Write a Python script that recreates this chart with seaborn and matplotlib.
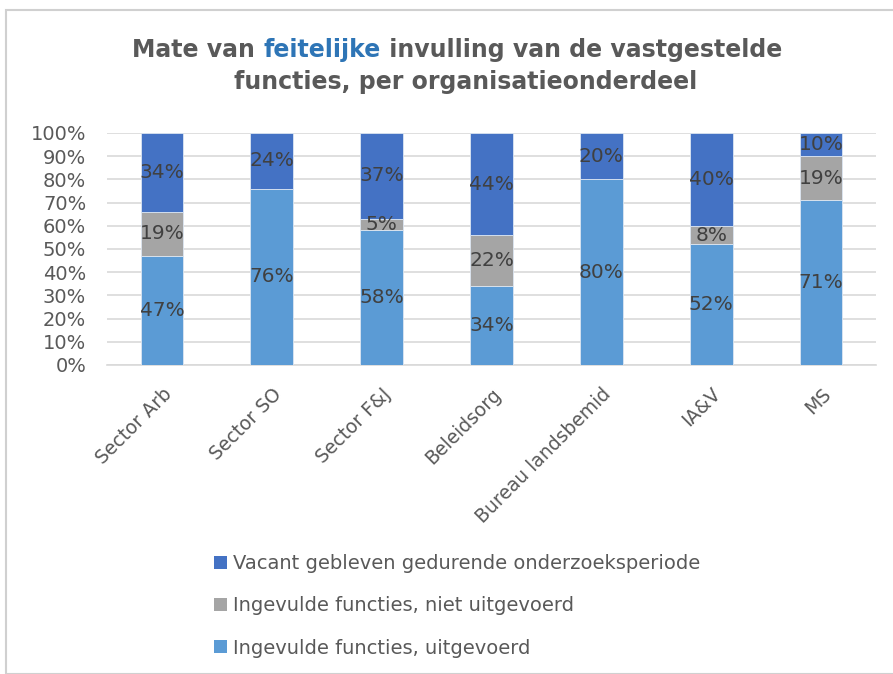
import matplotlib
matplotlib.use("Agg")
import matplotlib.pyplot as plt
import seaborn as sns
import pandas as pd
import numpy as np
from matplotlib.patches import Rectangle, Patch

categories = ["Sector Arb", "Sector SO", "Sector F&J", "Beleidsorg", "Bureau landsbemid", "IA&V", "MS"]
uitgevoerd = [47, 76, 58, 34, 80, 52, 71]
niet_uitgevoerd = [19, 0, 5, 22, 0, 8, 19]
vacant = [34, 24, 37, 44, 20, 40, 10]
series_names = ["Ingevulde functies, uitgevoerd", "Ingevulde functies, niet uitgevoerd",
                "Vacant gebleven gedurende onderzoeksperiode"]
yticks = [0, 10, 20, 30, 40, 50, 60, 70, 80, 90, 100]

colors = ["#5B9BD5", "#A5A5A5", "#4472C4"]
TXT = "#595959"

sns.set_theme(style="white")
plt.rcParams['font.family'] = ['DejaVu Sans']

fig = plt.figure(figsize=(8.93, 6.74), dpi=100)
ax = fig.add_axes([107/893, 1-365/674, 769/893, 232/674])

df = pd.DataFrame({"cat": categories, "u": uitgevoerd, "n": niet_uitgevoerd, "v": vacant})
bottoms = [np.zeros(len(categories)), np.array(uitgevoerd, float), np.array(uitgevoerd, float) + np.array(niet_uitgevoerd, float)]
cols = ["u", "n", "v"]
for col, b, c in zip(cols, bottoms, colors):
    sns.barplot(data=df, x="cat", y=col, bottom=b, color=c, width=0.39, ax=ax,
                saturation=1, edgecolor="#DCE6F2", linewidth=0.6, zorder=3)
    for i, (val, bb) in enumerate(zip(df[col], b)):
        if val > 0:
            ax.text(i, bb + val/2, f"{val}%", ha="center", va="center", fontsize=14.5,
                    color="#404040", zorder=4)

ax.set_ylim(0, 100)
ax.set_xlim(-0.5, len(categories)-0.5)
ax.set_yticks(yticks)
ax.set_yticklabels([f"{t}%" for t in yticks], fontsize=14, color=TXT)
ax.set_xticks(range(len(categories)))
ax.set_xticklabels(categories, rotation=45, ha="right", rotation_mode="anchor", fontsize=13.5, color=TXT)
ax.tick_params(axis="y", length=0, pad=15)
ax.tick_params(axis="x", length=0, pad=14)
ax.grid(axis="y", color="#D9D9D9", linewidth=1.2, zorder=0)
ax.set_axisbelow(True)
for s in ["top", "right", "left"]:
    ax.spines[s].set_visible(False)
ax.spines["bottom"].set_color("#D9D9D9")
ax.spines["bottom"].set_linewidth(1.2)
ax.set_xlabel("")
ax.set_ylabel("")

# Title with mixed colours
fig.canvas.draw()
r = fig.canvas.get_renderer()
parts = [("Mate van ", TXT), ("feitelijke", "#2E75B6"), (" invulling van de vastgestelde", TXT)]
tfs = 17
widths = []
for s, c in parts:
    t = fig.text(0, 0, s, fontsize=tfs, fontweight="bold")
    widths.append(t.get_window_extent(r).width)
    t.remove()
total = sum(widths)
x = 457 - total/2
y1 = 1 - 50/674
for (s, c), w in zip(parts, widths):
    fig.text(x/893, y1, s, fontsize=tfs, fontweight="bold", color=c, va="center", ha="left")
    x += w
fig.text(466/893, 1-82/674, "functies, per organisatieonderdeel", fontsize=tfs, fontweight="bold",
         color=TXT, va="center", ha="center")

handles = [Patch(facecolor=colors[i], edgecolor="none") for i in [2, 1, 0]]
labels = [series_names[i] for i in [2, 1, 0]]
fig.legend(handles, labels, loc="upper left", bbox_to_anchor=(214/893, 1-554/674), frameon=False,
           fontsize=14, labelcolor=TXT, handlelength=0.65, handleheight=0.65, handletextpad=0.35,
           labelspacing=1.2, borderpad=0, borderaxespad=0)

fig.patches.append(Rectangle((6/893, 0), 1, 1-10/674, transform=fig.transFigure, fill=False,
                             edgecolor="#D0D0D0", linewidth=1.5))

fig.savefig("out.png", dpi=100)
